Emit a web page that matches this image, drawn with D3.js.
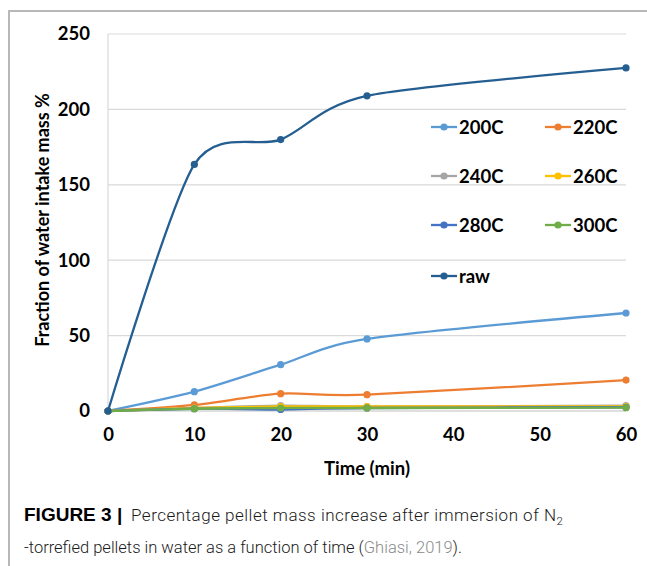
<!DOCTYPE html>
<html><head><meta charset="utf-8">
<script src="https://cdn.jsdelivr.net/npm/d3@7"></script>
<style>body{margin:0;background:#fff}svg{display:block}</style>
</head><body>
<svg id="c" width="647" height="566"></svg>
<script>
const times = [0, 10, 20, 30, 60];
const seriesNames = ["200C", "220C", "240C", "260C", "280C", "300C", "raw"];
const seriesColors = ["#5B9BD5", "#ED7D31", "#A5A5A5", "#FFC000", "#4472C4", "#70AD47", "#255E91"];
const s200 = [0, 12.8, 30.7, 47.8, 65.0];
const s220 = [0, 4.0, 11.5, 10.8, 20.5];
const s240 = [0, 2.0, 3.5, 3.0, 3.5];
const s260 = [0, 2.0, 3.0, 3.0, 3.0];
const s280 = [0, 1.5, 1.0, 2.0, 2.5];
const s300 = [0, 1.5, 2.0, 2.0, 2.2];
const sRaw = [0, 163.5, 180.0, 209.0, 227.5];
const xTicks = [0, 10, 20, 30, 40, 50, 60];
const yTicks = [0, 50, 100, 150, 200, 250];
const allSeries = [s200, s220, s240, s260, s280, s300, sRaw];

const svg = d3.select("#c");
const F = "Lato, 'Open Sans', sans-serif";
const FS = 18.5;

svg.append("path").attr("d", "M9,566 L9,11 L647,11").attr("fill", "none")
  .attr("stroke", "#b8b8b8").attr("stroke-width", 2);

const x = d3.scaleLinear().domain([0, 60]).range([108, 626]);
const y = d3.scaleLinear().domain([0, 250]).range([411, 34]);

svg.append("g").selectAll("line").data(yTicks.filter(d => d > 0)).join("line")
  .attr("x1", x(0)).attr("x2", x(60)).attr("y1", d => y(d)).attr("y2", d => y(d))
  .attr("stroke", "#d9d9d9").attr("stroke-width", 1.2);
svg.append("line").attr("x1", x(0)).attr("x2", x(0)).attr("y1", y(0)).attr("y2", y(250))
  .attr("stroke", "#d9d9d9").attr("stroke-width", 1.2);
svg.append("line").attr("x1", x(0)).attr("x2", x(60)).attr("y1", y(0)).attr("y2", y(0))
  .attr("stroke", "#bfbfbf").attr("stroke-width", 1.2);

const yAxis = d3.axisLeft(y).tickValues(yTicks).tickSize(0).tickPadding(18);
const gy = svg.append("g").attr("transform", `translate(${x(0)},0)`).call(yAxis);
gy.select(".domain").remove();
gy.selectAll("text").attr("font-family", F).attr("font-weight", "bold").attr("font-size", FS).attr("fill", "#000");

const xAxis = d3.axisBottom(x).tickValues(xTicks).tickSize(0).tickPadding(17);
const gx = svg.append("g").attr("transform", `translate(0,${y(0)})`).call(xAxis);
gx.select(".domain").remove();
gx.selectAll("text").attr("font-family", F).attr("font-weight", "bold").attr("font-size", FS).attr("fill", "#000");

svg.append("text").attr("transform", "translate(49,220) rotate(-90)").attr("text-anchor", "middle")
  .attr("font-family", F).attr("font-weight", "bold").attr("font-size", 18).text("Fraction of water intake mass %");
svg.append("text").attr("x", 367).attr("y", 475).attr("text-anchor", "middle")
  .attr("font-family", F).attr("font-weight", "bold").attr("font-size", FS).text("Time (min)");

const line = d3.line().x((d, i) => x(times[i])).y(d => y(d)).curve(d3.curveCardinal.tension(0.2));
allSeries.forEach((s, k) => {
  const g = svg.append("g");
  g.append("path").attr("d", line(s)).attr("fill", "none").attr("stroke", seriesColors[k]).attr("stroke-width", 2.3);
  g.selectAll("circle").data(s).join("circle").attr("cx", (d, i) => x(times[i])).attr("cy", d => y(d))
    .attr("r", 3.6).attr("fill", seriesColors[k]);
});

const legX = [431, 545], legY = [127, 176, 225, 276];
seriesNames.forEach((n, k) => {
  const lx = legX[k % 2], ly = legY[Math.floor(k / 2)];
  const g = svg.append("g");
  g.append("line").attr("x1", lx).attr("x2", lx + 26).attr("y1", ly).attr("y2", ly)
    .attr("stroke", seriesColors[k]).attr("stroke-width", 2.3);
  g.append("circle").attr("cx", lx + 13).attr("cy", ly).attr("r", 3.6).attr("fill", seriesColors[k]);
  g.append("text").attr("x", lx + 28).attr("y", ly + 6.5).attr("font-family", F).attr("font-weight", "bold")
    .attr("font-size", FS).text(n);
});

const CF = "Roboto, 'Liberation Sans', sans-serif";
svg.append("text").attr("x", 24).attr("y", 521).attr("font-family", "'Liberation Sans', Arial, sans-serif")
  .attr("font-size", 19).attr("font-weight", "bold").attr("fill", "#000")
  .text("FIGURE 3 |");
const c1 = svg.append("text").attr("x", 131).attr("y", 521).attr("font-family", CF).attr("font-size", 17)
  .attr("fill", "#1a1a1a").attr("font-weight", 300);
c1.append("tspan").attr("textLength", 425).attr("lengthAdjust", "spacing")
  .text("Percentage pellet mass increase after immersion of N");
c1.append("tspan").attr("font-size", 11.5).attr("dy", 4).text("2");
const c2 = svg.append("text").attr("x", 24).attr("y", 553).attr("font-family", CF).attr("font-size", 16.5).attr("fill", "#1a1a1a").attr("font-weight", 300);
c2.append("tspan").text("-torrefied pellets in water as a function of time (");
c2.append("tspan").attr("fill", "#8a8a8a").text("Ghiasi, 2019");
c2.append("tspan").text(").");
</script>
</body></html>
